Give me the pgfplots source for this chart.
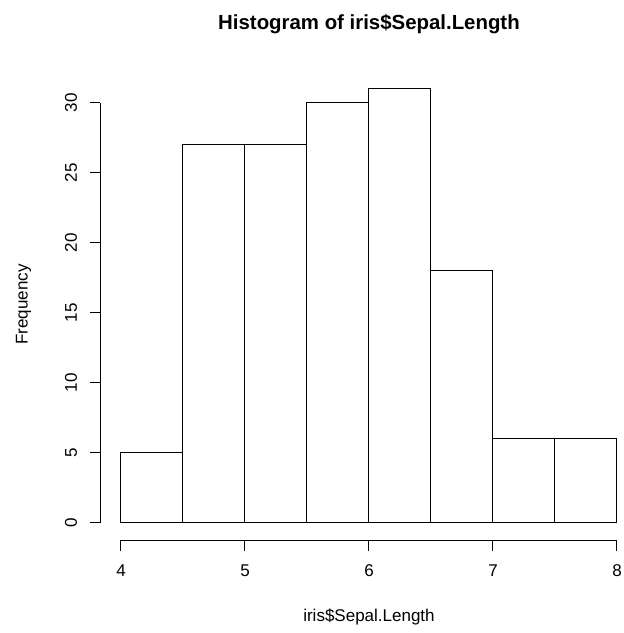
\documentclass[border=0pt]{standalone}
\usepackage{fontspec}
\setmainfont{Liberation Sans}
\usepackage{pgfplots}
\pgfplotsset{compat=1.18}
\begin{document}
\begin{tikzpicture}
\useasboundingbox (0,0) rectangle (624pt,633pt);
\begin{axis}[
  at={(121pt,110.5pt)}, anchor=south west,
  scale only axis, width=496pt, height=419.8pt,
  xmin=4, xmax=8, ymin=0, ymax=30,
  clip=false,
  axis lines*=left,
  axis x line shift=17.5pt,
  axis y line shift=20.5pt,
  axis line style={black, line width=1pt},
  tick align=outside,
  major tick length=10.5pt,
  tick style={black, line width=1pt},
  xtick={4,5,6,7,8}, ytick={0,5,10,15,20,25,30},
  /pgf/number format/assume math mode=true,
  ticklabel style={font=\fontsize{17}{20}\selectfont},
  xticklabel shift=10.8pt,
  yticklabel shift=9.3pt,
  yticklabel style={rotate=90, anchor=south},
  title={Histogram of iris\$Sepal.Length},
  title style={at={(axis cs:6,35.2)}, anchor=center, font=\fontsize{20.4}{24}\selectfont\bfseries},
  xlabel={iris\$Sepal.Length},
  xlabel style={at={(axis cs:6,-6.75)}, anchor=center, font=\fontsize{17}{20}\selectfont},
  ylabel={Frequency},
  ylabel style={at={(axis cs:3.214,15.58)}, anchor=center, rotate=0, font=\fontsize{17}{20}\selectfont},
]
\addplot[ybar interval, fill=white, draw=black, line width=1pt]
  coordinates {(4,5) (4.5,27) (5,27) (5.5,30) (6,31) (6.5,18) (7,6) (7.5,6) (8,6)};
\end{axis}
\end{tikzpicture}
\end{document}
